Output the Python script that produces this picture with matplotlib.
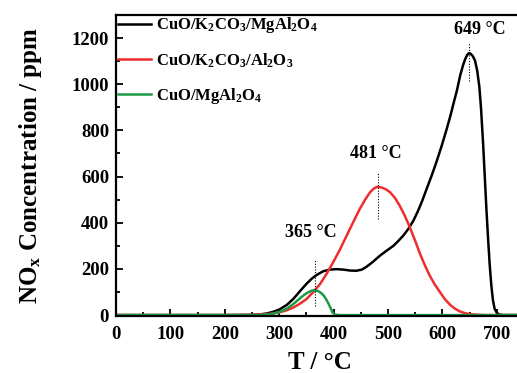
import numpy as np
import matplotlib
matplotlib.use('Agg')
from matplotlib import pyplot as plt
from matplotlib.ticker import MultipleLocator

# NOx release curves, temperature in degC, concentration in ppm
t_k_mg = [0, 100, 200, 250, 265, 277, 289, 301, 314, 326, 338, 350, 360, 369, 381, 393,
          405, 418, 430, 442, 452, 461, 473, 485, 497, 510, 519, 528, 538, 547, 555, 563,
          571, 580, 589, 599, 608, 615, 621, 627, 633, 638, 642, 646, 649, 652, 656, 660,
          664, 668, 671, 675, 678, 681, 684, 687, 690, 693, 696, 700, 705, 712, 750]
c_k_mg = [0, 0, 0, 1, 3, 7, 14, 25, 44, 70, 103, 135, 158, 174, 190, 197,
          199, 197, 193, 192, 197, 210, 232, 257, 278, 300, 321, 344, 375, 410, 450, 495,
          546, 602, 662, 735, 806, 865, 921, 975, 1040, 1082, 1109, 1128, 1135, 1132, 1122, 1103,
          1060, 990, 900, 740, 600, 460, 335, 220, 130, 65, 28, 10, 2, 0, 0]

t_k_al = [0, 100, 200, 250, 270, 285, 301, 314, 326, 338, 350, 362, 375, 387, 399, 412,
          424, 436, 448, 458, 467, 475, 481, 488, 496, 504, 513, 522, 531, 540, 550, 559,
          568, 577, 586, 596, 605, 614, 623, 632, 642, 651, 665, 680, 700, 750]
c_k_al = [0, 0, 0, 1, 3, 6, 12, 21, 33, 49, 69, 98, 134, 178, 228, 285,
          344, 402, 459, 500, 532, 550, 556, 553, 545, 532, 507, 472, 430, 382, 322, 265,
          215, 170, 133, 98, 68, 45, 28, 16, 8, 4, 1.5, 0, 0, 0]

t_mg = [0, 100, 200, 250, 270, 285, 301, 314, 326, 335, 344, 352, 359, 365, 371, 377,
        382, 387, 391, 395, 398, 402, 410, 500, 750]
c_mg = [0, 0, 0, 0, 1, 4, 14, 28, 48, 66, 84, 97, 105, 108, 105, 96,
        84, 66, 48, 28, 12, 2, 0, 0, 0]

peaks = [365, 481, 649]
peak_lines = [(40, 245), (416, 620), (1015, 1180)]
peak_text_pos = [(359, 358), (477, 698), (669, 1239)]

labels = ['CuO/K$_2$CO$_3$/MgAl$_2$O$_4$',
          'CuO/K$_2$CO$_3$/Al$_2$O$_3$',
          'CuO/MgAl$_2$O$_4$']
colors = ['black', '#ee2d2d', '#1c9a45']

plt.rcParams['font.family'] = 'Liberation Serif'
plt.rcParams['font.weight'] = 'bold'
plt.rcParams['mathtext.fontset'] = 'custom'
plt.rcParams['mathtext.rm'] = 'Liberation Serif:bold'
plt.rcParams['mathtext.it'] = 'Liberation Serif:bold'
plt.rcParams['mathtext.bf'] = 'Liberation Serif:bold'
plt.rcParams['mathtext.default'] = 'rm'

fig = plt.figure(figsize=(5.17, 3.73), dpi=100)
ax = fig.add_axes([0.2244, 0.1528, 0.789, 0.807])

for t, c, lab, col in zip([t_k_mg, t_k_al, t_mg], [c_k_mg, c_k_al, c_mg], labels, colors):
    ax.plot(t, c, color=col, lw=1.8, label=lab)

for p, (y0, y1), (tx, ty) in zip(peaks, peak_lines, peak_text_pos):
    ax.plot([p, p], [y0, y1], color='black', lw=0.8, linestyle=(0, (1, 1.5)))
    ax.text(tx, ty, '%d °C' % p, ha='center', va='center', fontsize=13, fontweight='bold')

ax.set_xlim(0, 750)
ax.set_ylim(-4, 1300)
ax.xaxis.set_major_locator(MultipleLocator(100))
ax.xaxis.set_minor_locator(MultipleLocator(50))
ax.yaxis.set_major_locator(MultipleLocator(200))
ax.yaxis.set_minor_locator(MultipleLocator(100))
ax.tick_params(which='both', direction='in', labelsize=13.5, width=1.3)
ax.tick_params(which='major', length=5)
ax.tick_params(which='minor', length=3)
ax.tick_params(axis='x', pad=7)
ax.tick_params(axis='y', pad=5)
for s in ax.spines.values():
    s.set_linewidth(1.6)

ax.set_xlabel('T / °C', fontsize=18, fontweight='bold', labelpad=6)
ax.set_ylabel('NO$_x$ Concentration / ppm', fontsize=18, fontweight='bold', labelpad=20)

ax.legend(loc='upper left', frameon=False, fontsize=12, handlelength=2.0,
          handletextpad=0.3, labelspacing=0.95, borderaxespad=0.0,
          borderpad=0.1, bbox_to_anchor=(0.0, 1.004))

fig.savefig('out.png', dpi=100)
